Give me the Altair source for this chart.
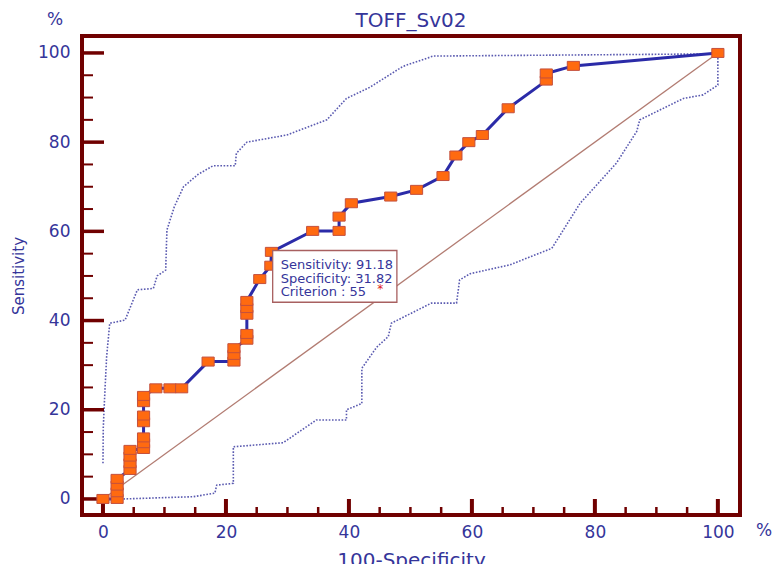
import altair as alt
import pandas as pd

# ---------------- data ----------------
title_text = ["TOFF_Sv02"]
title_x = [50.1]
title_y = [105.8]
x_title = "100-Specificity"
y_title = "Sensitivity"

roc_fpr = [0, 2.3, 2.3, 2.3, 2.3, 4.4, 4.4, 4.4, 4.4, 6.6, 6.6, 6.6, 6.6, 6.6, 6.6, 6.6,
           8.6, 10.9, 12.8, 17.1, 21.3, 21.3, 21.3, 23.4, 23.4, 23.4, 23.4, 23.4, 25.5,
           27.3, 27.4, 34.1, 38.4, 38.4, 40.4, 46.8, 51.0, 55.3, 57.4, 59.5, 61.7, 65.9,
           72.1, 72.1, 76.5, 100]
roc_sens = [0, 0, 1.5, 3.0, 4.5, 6.5, 8.0, 9.5, 11.0, 11.2, 12.5, 13.8, 17.2, 18.7, 21.7, 23.1,
            24.8, 24.8, 24.8, 30.8, 30.8, 32.3, 33.8, 35.7, 37.0, 41.3, 42.8, 44.4, 49.3,
            52.3, 55.4, 60.1, 60.1, 63.3, 66.3, 67.8, 69.3, 72.4, 77.0, 80.0, 81.6, 87.6,
            93.8, 95.4, 97.1, 100]

band_x = [0.0, 0.05, 0.3, 0.6, 1.1, 3.6, 5.6, 8.2, 8.8, 10.2, 10.4, 11.6, 13.1, 15.5, 17.9,
          21.5, 21.7, 23.4, 29.9, 36.4, 39.6, 43.4, 48.8, 53.7, 99.8,
          100, 100, 97.6, 94.4, 87.3, 86.8, 83.5, 77.6, 73.0, 66.2, 59.7, 58.0, 57.5, 53.4,
          46.9, 46.4, 44.5, 42.1, 42.1, 39.6, 39.6, 34.7, 29.3, 21.2, 21.2, 18.5, 18.2, 14.7, 3.3]
band_y = [8.0, 16.0, 23.7, 32.0, 39.4, 40.1, 46.9, 47.2, 50.0, 51.3, 60.3, 65.5, 70.0, 72.8, 74.7,
          74.7, 77.5, 80.0, 81.6, 85.0, 89.8, 92.3, 97.0, 99.3, 99.8,
          99.8, 92.8, 90.6, 89.8, 85.0, 82.4, 75.3, 66.3, 56.2, 52.5, 50.5, 49.1, 43.9, 43.9,
          39.4, 36.4, 34.0, 29.3, 21.4, 20.0, 17.7, 17.7, 12.6, 11.7, 3.5, 3.1, 1.3, 0.5, 0.0]

diag_x = [0, 100]
diag_y = [0, 100]

major_ticks = [0, 20, 40, 60, 80, 100]
minor_ticks = [5, 10, 15, 25, 30, 35, 45, 50, 55, 65, 70, 75, 85, 90, 95]

box_x1 = [27.6]
box_x2 = [47.8]
box_y1 = [55.7]
box_y2 = [44.1]
box_lines = ["Sensitivity: 91.18", "Specificity: 31.82", "Criterion : 55"]
box_line_x = [28.9, 28.9, 28.9]
box_line_y = [52.5, 49.3, 46.3]
star_text = ["*"]
star_x = [44.6]
star_y = [47.0]

pct_text = ["%", "%"]
pct_x = [107.5, -7.8]
pct_y = [-7.2, 107.4]

# ---------------- style ----------------
FONT = "DejaVu Sans"
BLUE = "#35359A"
FRAME = "#700000"
W, H = 658, 479

xs = alt.Scale(domain=[-3.41, 103.6], nice=False, zero=False)
ys = alt.Scale(domain=[-3.6, 103.8], nice=False, zero=False)
xa = alt.Axis(values=major_ticks, title=x_title, grid=False, domain=False, ticks=False,
              labelFont=FONT, labelFontSize=17, labelColor=BLUE, labelPadding=9,
              labelOverlap=False, labelFlush=False,
              titleFont=FONT, titleFontSize=20, titleColor=BLUE, titleFontWeight="normal",
              titleX=329, titleY=51, titleAlign="center", titleBaseline="alphabetic")
ya = alt.Axis(values=major_ticks, title=y_title, grid=False, domain=False, ticks=False,
              labelFont=FONT, labelFontSize=17, labelColor=BLUE, labelPadding=12,
              labelOverlap=False, labelFlush=False,
              titleFont=FONT, titleFontSize=15, titleColor=BLUE, titleFontWeight="normal",
              titleAngle=270, titleX=-64, titleY=239.5, titleAlign="center",
              titleBaseline="middle")


def X(f):
    return alt.X(f, type="quantitative", scale=xs, axis=xa)


def Y(f):
    return alt.Y(f, type="quantitative", scale=ys, axis=ya)


roc = pd.DataFrame({"x": roc_fpr, "y": roc_sens, "i": range(len(roc_fpr))})
band = pd.DataFrame({"x": band_x, "y": band_y, "i": range(len(band_x))})
diag = pd.DataFrame({"x": diag_x, "y": diag_y})
majors = pd.DataFrame({"v": major_ticks})
minors = pd.DataFrame({"v": minor_ticks})
box = pd.DataFrame({"x1": box_x1, "x2": box_x2, "y1": box_y1, "y2": box_y2})
lines = pd.DataFrame({"x": box_line_x, "y": box_line_y, "t": box_lines})
star = pd.DataFrame({"x": star_x, "y": star_y, "t": star_text})
pct = pd.DataFrame({"x": pct_x, "y": pct_y, "t": pct_text})
ttl = pd.DataFrame({"x": title_x, "y": title_y, "t": title_text})

diag_layer = alt.Chart(diag).mark_line(color="#B27C72", strokeWidth=1.3).encode(x=X("x"), y=Y("y"))
band_layer = alt.Chart(band).mark_line(color="#5A5AB0", strokeWidth=1.6, strokeDash=[1.6, 1.6]).encode(
    x=X("x"), y=Y("y"), order=alt.Order("i:Q"))

xt_major = alt.Chart(majors).mark_rule(color=FRAME, strokeWidth=4).encode(
    x=X("v"), y=alt.value(H), y2=alt.value(H - 16))
xt_minor = alt.Chart(minors).mark_rule(color=FRAME, strokeWidth=2.5).encode(
    x=X("v"), y=alt.value(H), y2=alt.value(H - 8))
yt_major = alt.Chart(majors).mark_rule(color=FRAME, strokeWidth=3.5).encode(
    y=Y("v"), x=alt.value(0), x2=alt.value(22))
yt_minor = alt.Chart(minors).mark_rule(color=FRAME, strokeWidth=2).encode(
    y=Y("v"), x=alt.value(0), x2=alt.value(11))

roc_line = alt.Chart(roc).mark_line(color="#2B2BA8", strokeWidth=3).encode(
    x=X("x"), y=Y("y"), order=alt.Order("i:Q"))
roc_pts = alt.Chart(roc).mark_point(
    shape="M-1.35,-1L1.35,-1L1.35,1L-1.35,1Z", size=81, filled=True,
    fill="#FF6A10", stroke="#C4503E", strokeWidth=1, opacity=1).encode(x=X("x"), y=Y("y"))

box_layer = alt.Chart(box).mark_rect(fill="white", stroke="#A86060", strokeWidth=1.3).encode(
    x=X("x1"), x2="x2", y=Y("y1"), y2="y2")
text_layer = alt.Chart(lines).mark_text(font=FONT, fontSize=13, color=BLUE, align="left",
                                        baseline="middle").encode(x=X("x"), y=Y("y"), text="t:N")
star_layer = alt.Chart(star).mark_text(font=FONT, fontSize=12, color="#E02020", align="left",
                                       baseline="middle").encode(x=X("x"), y=Y("y"), text="t:N")
pct_layer = alt.Chart(pct).mark_text(font=FONT, fontSize=17, color=BLUE, align="center",
                                     baseline="middle").encode(x=X("x"), y=Y("y"), text="t:N")
title_layer = alt.Chart(ttl).mark_text(font=FONT, fontSize=20, color=BLUE, align="center",
                                       baseline="alphabetic").encode(x=X("x"), y=Y("y"), text="t:N")

chart = alt.layer(
    diag_layer, band_layer, xt_major, xt_minor, yt_major, yt_minor,
    roc_line, roc_pts, box_layer, text_layer, star_layer, pct_layer, title_layer
).properties(
    width=W, height=H,
    padding={"left": 74, "top": 28, "right": 32, "bottom": 60},
    autosize=alt.AutoSizeParams(type="none"),
).configure_view(stroke=FRAME, strokeWidth=4)

chart.save("out.html", embed_options={"renderer": "svg", "actions": False})
